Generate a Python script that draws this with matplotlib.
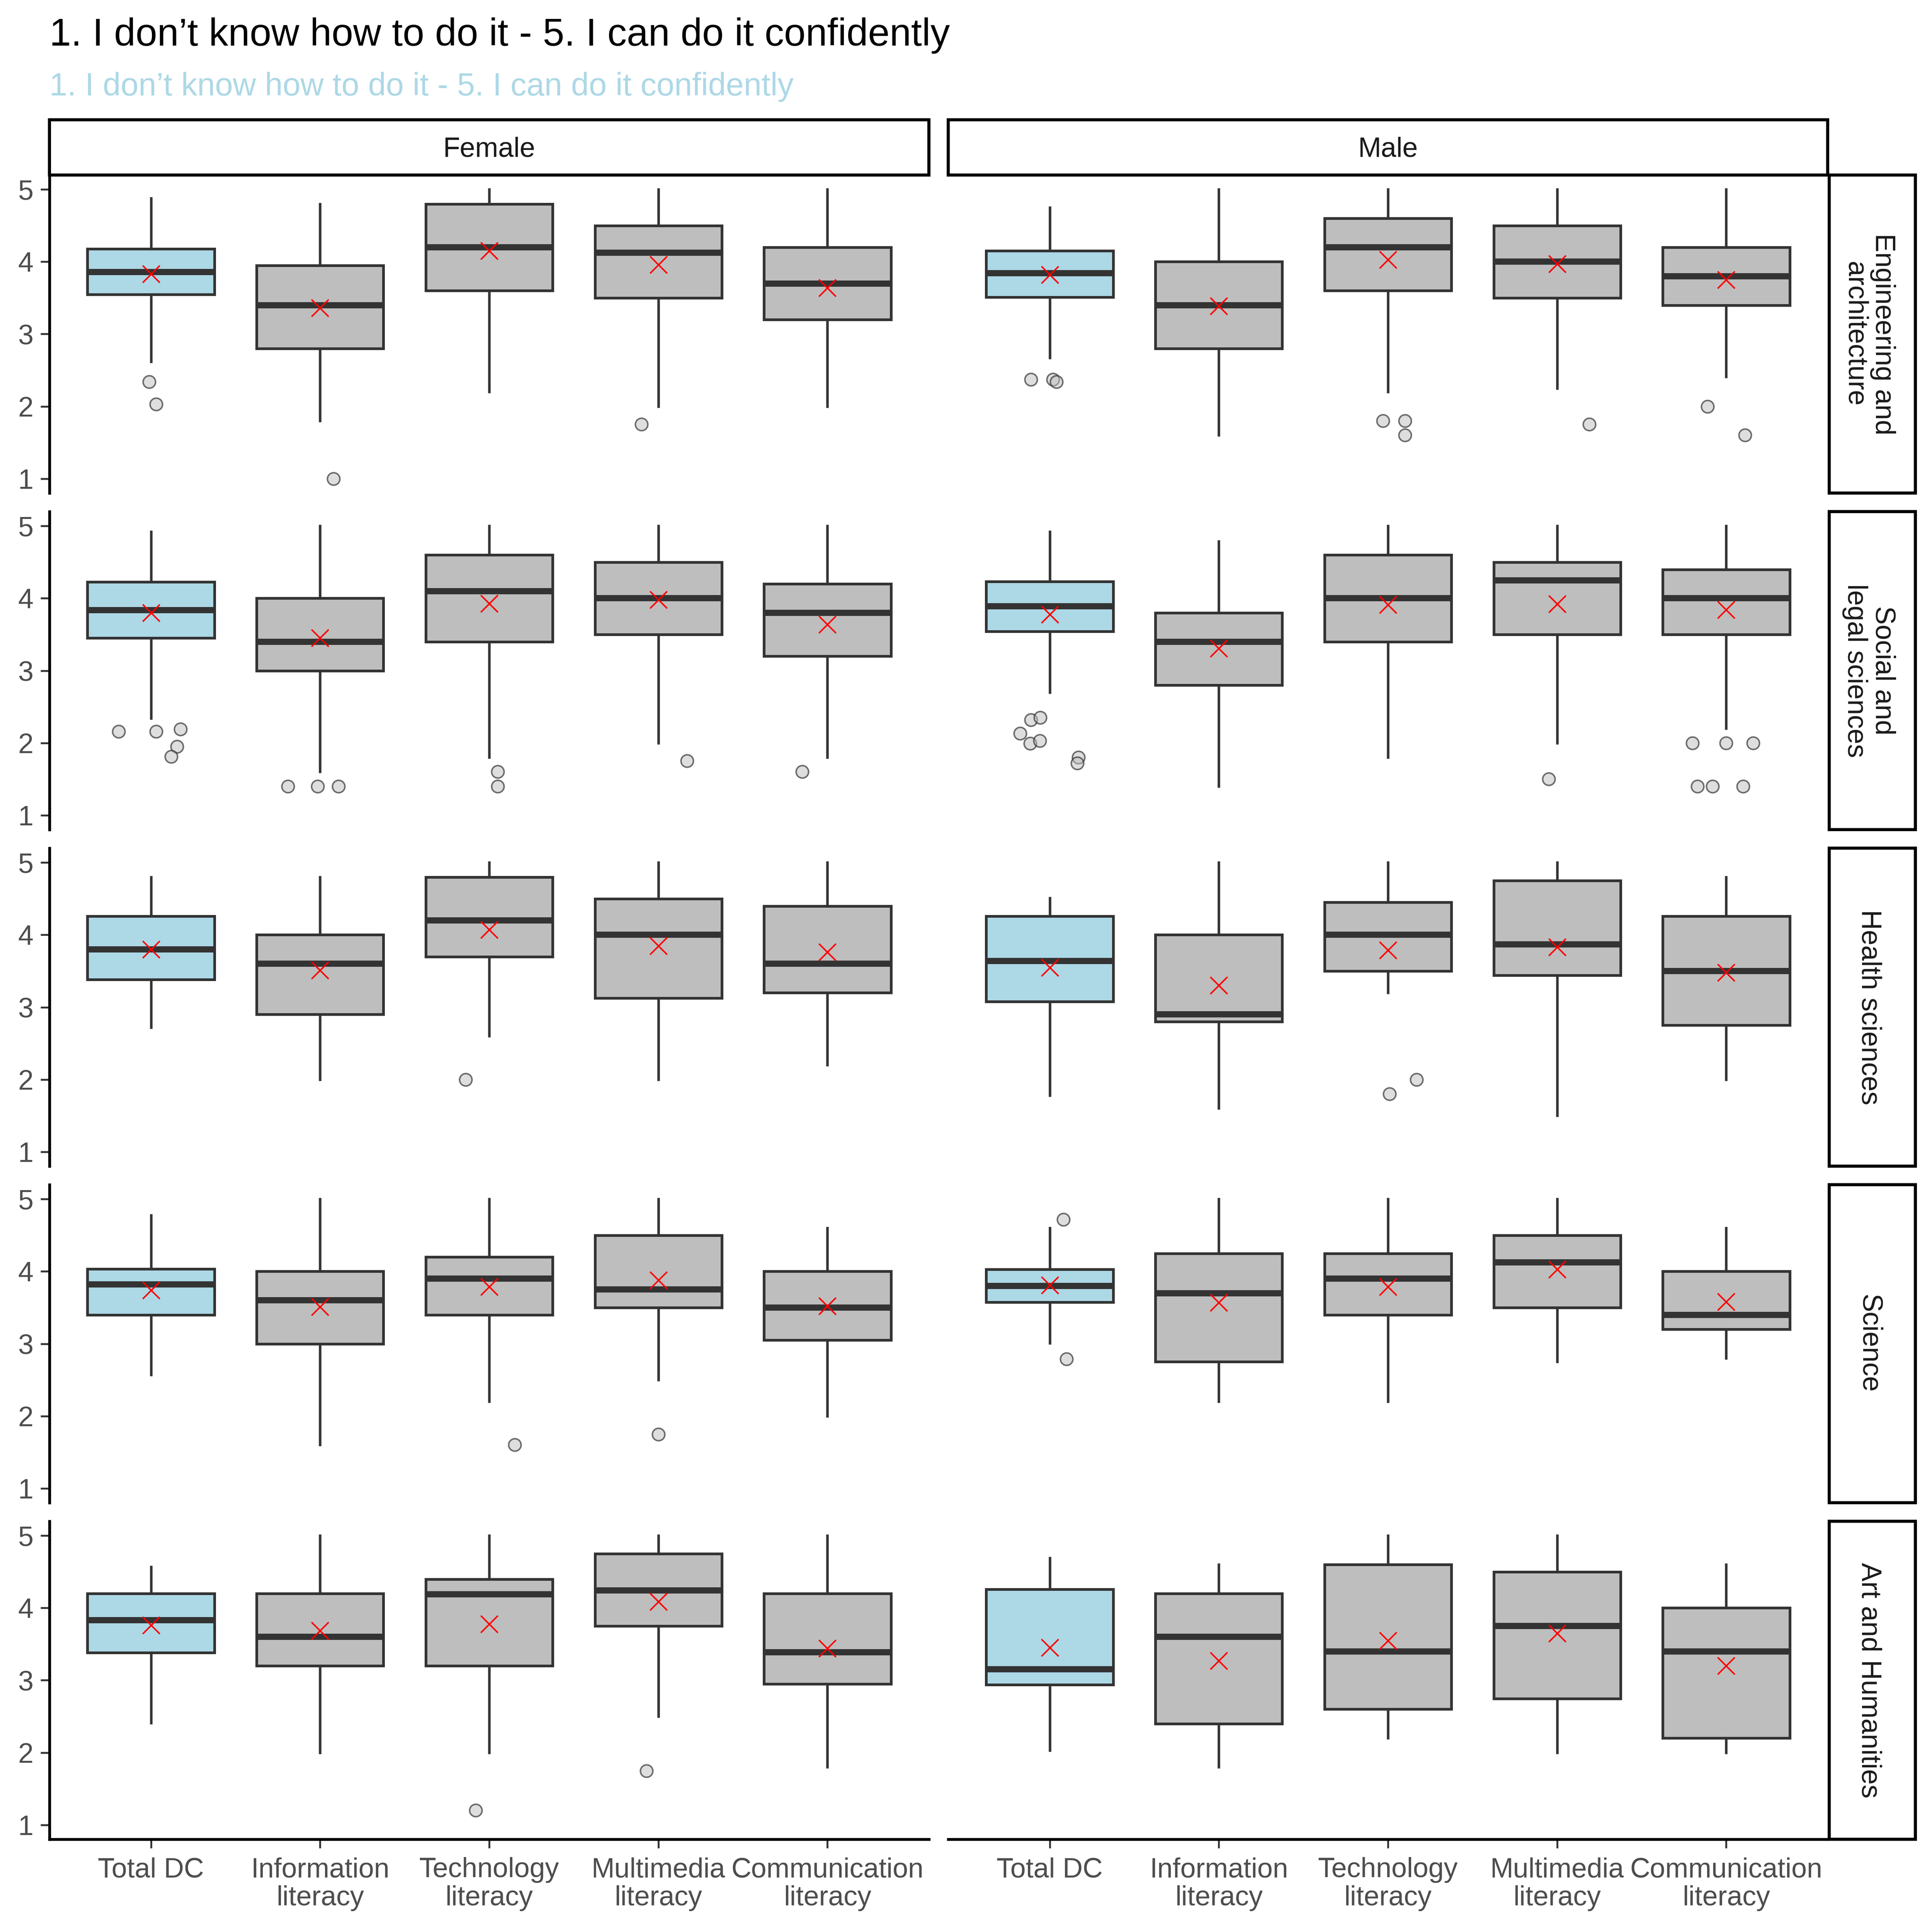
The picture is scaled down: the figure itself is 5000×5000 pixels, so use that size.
import matplotlib
matplotlib.use("Agg")
import matplotlib.pyplot as plt
import numpy as np

plt.rcParams["font.family"] = ["Liberation Sans", "DejaVu Sans"]

# ---------------- data ----------------
title = "1. I don\u2019t know how to do it - 5. I can do it confidently"
subtitle = "1. I don\u2019t know how to do it - 5. I can do it confidently"

faculties = ["Engineering and\narchitecture", "Social and\nlegal sciences",
             "Health sciences", "Science", "Art and Humanities"]
genders = ["Female", "Male"]
competences = ["Total DC", "Information\nliteracy", "Technology\nliteracy",
               "Multimedia\nliteracy", "Communication\nliteracy"]

# statistic[faculty][gender][competence]
whisker_low = [
    [[2.62, 1.80, 2.20, 2.00, 2.00], [2.67, 1.60, 2.20, 2.25, 2.41]],
    [[2.34, 1.60, 1.80, 2.00, 1.80], [2.70, 1.40, 1.80, 2.00, 2.20]],
    [[2.72, 2.00, 2.60, 2.00, 2.20], [1.78, 1.60, 3.20, 1.50, 2.00]],
    [[2.57, 1.60, 2.20, 2.50, 2.00], [3.01, 2.20, 2.20, 2.75, 2.80]],
    [[2.41, 2.00, 2.00, 2.50, 1.80], [2.03, 1.80, 2.20, 2.00, 2.00]],
]
q1 = [
    [[3.55, 2.80, 3.60, 3.50, 3.20], [3.51, 2.80, 3.60, 3.50, 3.40]],
    [[3.45, 3.00, 3.40, 3.50, 3.20], [3.54, 2.80, 3.40, 3.50, 3.50]],
    [[3.38, 2.90, 3.70, 3.125, 3.20], [3.08, 2.80, 3.50, 3.44, 2.75]],
    [[3.40, 3.00, 3.40, 3.50, 3.05], [3.575, 2.75, 3.40, 3.50, 3.20]],
    [[3.38, 3.20, 3.20, 3.75, 2.95], [2.94, 2.40, 2.60, 2.745, 2.20]],
]
median = [
    [[3.86, 3.40, 4.20, 4.125, 3.70], [3.84, 3.40, 4.20, 4.00, 3.80]],
    [[3.835, 3.40, 4.10, 4.00, 3.80], [3.89, 3.40, 4.00, 4.25, 4.00]],
    [[3.80, 3.60, 4.20, 4.00, 3.60], [3.64, 2.90, 4.00, 3.87, 3.50]],
    [[3.82, 3.60, 3.90, 3.75, 3.50], [3.80, 3.70, 3.90, 4.125, 3.40]],
    [[3.83, 3.60, 4.19, 4.245, 3.39], [3.15, 3.60, 3.40, 3.75, 3.40]],
]
q3 = [
    [[4.18, 3.95, 4.80, 4.50, 4.20], [4.15, 4.00, 4.60, 4.50, 4.20]],
    [[4.225, 4.00, 4.60, 4.50, 4.20], [4.23, 3.80, 4.60, 4.50, 4.40]],
    [[4.26, 4.00, 4.80, 4.50, 4.40], [4.26, 4.00, 4.45, 4.75, 4.26]],
    [[4.035, 4.00, 4.20, 4.50, 4.00], [4.03, 4.25, 4.25, 4.50, 4.00]],
    [[4.20, 4.20, 4.40, 4.75, 4.20], [4.26, 4.20, 4.60, 4.50, 4.00]],
]
whisker_high = [
    [[4.88, 4.80, 5.00, 5.00, 5.00], [4.75, 5.00, 5.00, 5.00, 5.00]],
    [[4.92, 5.00, 5.00, 5.00, 5.00], [4.92, 4.79, 5.00, 5.00, 5.00]],
    [[4.80, 4.80, 5.00, 5.00, 5.00], [4.51, 5.00, 5.00, 5.00, 4.80]],
    [[4.78, 5.00, 5.00, 5.00, 4.60], [4.60, 5.00, 5.00, 5.00, 4.60]],
    [[4.57, 5.00, 5.00, 5.00, 5.00], [4.69, 4.60, 5.00, 5.00, 4.60]],
]
mean = [
    [[3.83, 3.36, 4.15, 3.96, 3.64], [3.82, 3.39, 4.03, 3.97, 3.75]],
    [[3.80, 3.45, 3.93, 3.98, 3.64], [3.78, 3.31, 3.91, 3.92, 3.84]],
    [[3.80, 3.51, 4.07, 3.85, 3.76], [3.55, 3.30, 3.79, 3.83, 3.48]],
    [[3.74, 3.51, 3.79, 3.88, 3.52], [3.81, 3.57, 3.79, 4.03, 3.58]],
    [[3.76, 3.685, 3.78, 4.09, 3.44], [3.45, 3.27, 3.55, 3.65, 3.20]],
]
# outlier values and their horizontal jitter (category units)
outliers = [
    [[[2.34, 2.03], [1.00], [], [1.75], []],
     [[2.37, 2.37, 2.34], [], [1.80, 1.80, 1.60], [1.75], [2.00, 1.60]]],
    [[[2.16, 2.16, 2.19, 1.95, 1.81], [1.40, 1.40, 1.40], [1.60, 1.40], [1.75], [1.60]],
     [[2.32, 2.35, 2.13, 1.99, 2.03, 1.80, 1.72], [], [], [1.50],
      [2.00, 2.00, 2.00, 1.40, 1.40, 1.40]]],
    [[[], [], [2.00], [], []],
     [[], [], [2.00, 1.80], [], []]],
    [[[], [], [1.60], [1.745], []],
     [[4.72, 2.79], [], [], [], []]],
    [[[], [], [1.20], [1.745], []],
     [[], [], [], [], []]],
]
outlier_jitter = [
    [[[-0.01, 0.03], [0.08], [], [-0.10], []],
     [[-0.11, 0.02, 0.04], [], [-0.03, 0.10, 0.10], [0.19], [-0.11, 0.11]]],
    [[[-0.19, 0.03, 0.175, 0.155, 0.12], [-0.19, -0.015, 0.11], [0.05, 0.05], [0.17], [-0.15]],
     [[-0.11, -0.057, -0.175, -0.116, -0.059, 0.169, 0.162], [], [], [-0.05],
      [-0.20, 0.0, 0.16, -0.17, -0.08, 0.10]]],
    [[[], [], [-0.14], [], []],
     [[], [], [0.17, 0.01], [], []]],
    [[[], [], [0.15], [0.0], []],
     [[0.08, 0.10], [], [], [], []]],
    [[[], [], [-0.08], [-0.07], []],
     [[], [], [], [], []]],
]

# ---------------- style ----------------
W = 5000.0
fig = plt.figure(figsize=(16, 16), dpi=312.5)

col_left = [128, 2454]
col_width = 2276
row_top0 = 453
row_height = 823
row_step = 871
strip_top = 310
strip_x0, strip_x1 = 4734, 4957

BOX_EDGE = "#333333"
FILL_TOTAL = "#ADD8E6"
FILL_OTHER = "#BEBEBE"
TICK_COLOR = "#333333"
LABEL_COLOR = "#4D4D4D"
FS = 16.5

positions = np.arange(1, len(competences) + 1)


def fig_rect(x0, y0_top, w, h):
    return [x0 / W, 1 - (y0_top + h) / W, w / W, h / W]


for r in range(len(faculties)):
    top = row_top0 + r * row_step
    for g in range(len(genders)):
        ax = fig.add_axes(fig_rect(col_left[g], top, col_width, row_height))
        stats = []
        for c in range(len(competences)):
            stats.append(dict(med=median[r][g][c], q1=q1[r][g][c], q3=q3[r][g][c],
                              whislo=whisker_low[r][g][c], whishi=whisker_high[r][g][c],
                              fliers=[], label=competences[c]))
        bp = ax.bxp(stats, positions=positions, widths=0.75, patch_artist=True,
                    showfliers=False, showcaps=False,
                    boxprops=dict(edgecolor=BOX_EDGE, linewidth=1.6),
                    medianprops=dict(color=BOX_EDGE, linewidth=3.7, solid_capstyle="butt"),
                    whiskerprops=dict(color=BOX_EDGE, linewidth=1.5))
        for c, patch in enumerate(bp["boxes"]):
            patch.set_facecolor(FILL_TOTAL if c == 0 else FILL_OTHER)
        # outliers
        for c in range(len(competences)):
            vals = outliers[r][g][c]
            if vals:
                xs = positions[c] + np.array(outlier_jitter[r][g][c])
                ax.scatter(xs, vals, s=55, facecolor=(0.75, 0.75, 0.75, 0.5),
                           edgecolor=(0.2, 0.2, 0.2, 0.7), linewidths=0.9, zorder=4)
        # means
        ax.scatter(positions, mean[r][g], marker="x", s=104, color="red",
                   linewidths=0.9, zorder=5)

        ax.set_xlim(0.4, 5.6)
        ax.set_ylim(0.8, 5.2)
        for s in ["top", "right"]:
            ax.spines[s].set_visible(False)
        ax.set_yticks([1, 2, 3, 4, 5])
        if g == 0:
            ax.spines["left"].set_linewidth(1.7)
            ax.spines["left"].set_color("black")
            ax.tick_params(axis="y", length=5.2, width=1.1, color=TICK_COLOR,
                           labelsize=FS, labelcolor=LABEL_COLOR, pad=4.5)
        else:
            ax.spines["left"].set_visible(False)
            ax.tick_params(axis="y", left=False, labelleft=False)
        ax.set_xticks(positions)
        if r == len(faculties) - 1:
            ax.spines["bottom"].set_linewidth(1.7)
            ax.spines["bottom"].set_color("black")
            ax.set_xticklabels(competences, fontsize=FS, color=LABEL_COLOR,
                               linespacing=1.1)
            ax.tick_params(axis="x", length=5.2, width=1.1, color=TICK_COLOR, pad=5.5)
        else:
            ax.spines["bottom"].set_visible(False)
            ax.tick_params(axis="x", bottom=False, labelbottom=False)
        ax.set_facecolor("none")

        # top strips
        if r == 0:
            sax = fig.add_axes(fig_rect(col_left[g], strip_top, col_width,
                                        row_top0 - strip_top))
            sax.set_xticks([]); sax.set_yticks([])
            for s in sax.spines.values():
                s.set_linewidth(1.85); s.set_color("black")
            sax.text(0.5, 0.46, genders[g], ha="center", va="center",
                     fontsize=FS, color="#1A1A1A", transform=sax.transAxes)

    # right strip
    rax = fig.add_axes(fig_rect(strip_x0, top, strip_x1 - strip_x0, row_height))
    rax.set_xticks([]); rax.set_yticks([])
    for s in rax.spines.values():
        s.set_linewidth(1.85); s.set_color("black")
    rax.text(0.46, 0.5, faculties[r], ha="center", va="center", rotation=-90,
             multialignment="center", fontsize=FS, color="#1A1A1A",
             linespacing=1.1, transform=rax.transAxes)

fig.text(128 / W, 1 - 118 / W, title, fontsize=23.1, color="black",
         ha="left", va="baseline")
fig.text(128 / W, 1 - 247 / W, subtitle, fontsize=19.1, color=FILL_TOTAL,
         ha="left", va="baseline")

fig.savefig("out.png", dpi=312.5, facecolor="white")
